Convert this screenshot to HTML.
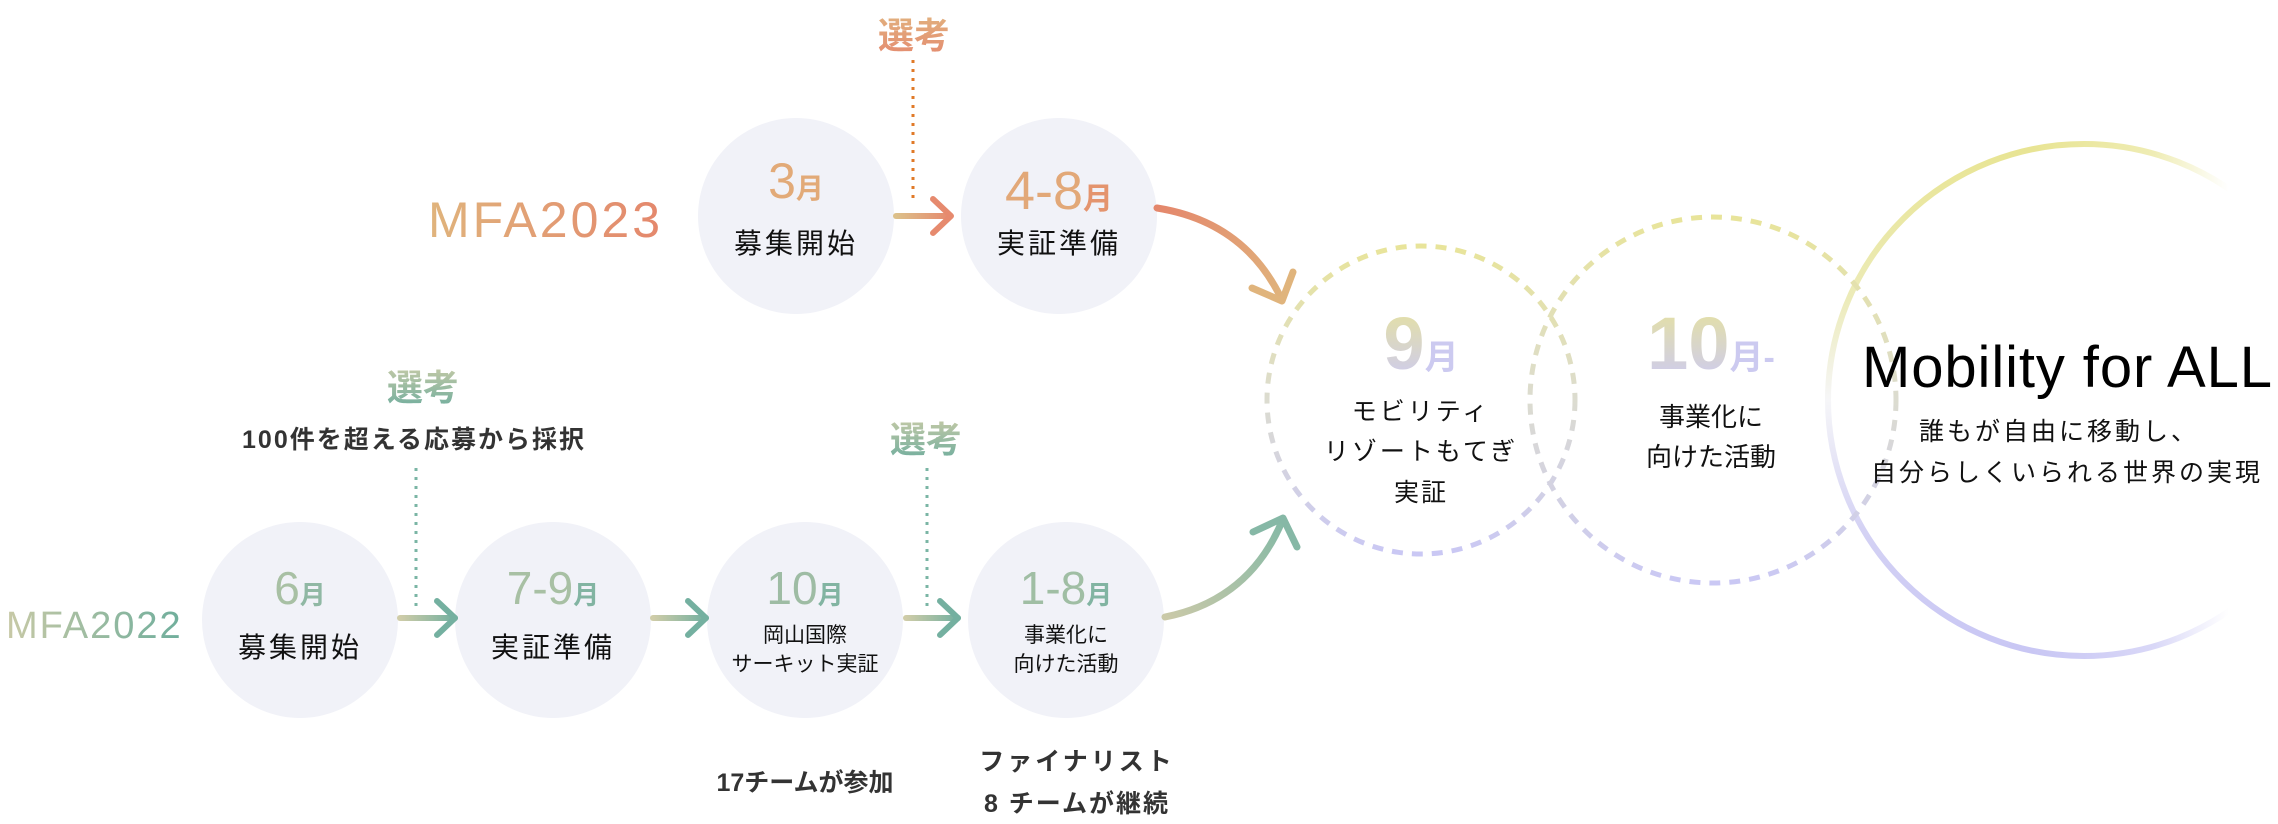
<!DOCTYPE html>
<html><head><meta charset="utf-8"><style>
html,body{margin:0;padding:0;background:#fff;}
svg{display:block;}
text{font-family:"Liberation Sans","Noto Sans CJK JP",sans-serif;}
</style></head><body>
<svg width="2278" height="824" viewBox="0 0 2278 824" xmlns="http://www.w3.org/2000/svg">
<defs>
<linearGradient id="or" x1="0" y1="0" x2="1" y2="0"><stop offset="0" stop-color="#e0b47c"/><stop offset="1" stop-color="#e4876c"/></linearGradient>
<linearGradient id="orh" gradientUnits="userSpaceOnUse" x1="896" y1="0" x2="950" y2="0"><stop offset="0" stop-color="#dcc08a"/><stop offset="1" stop-color="#e68a6e"/></linearGradient>
<linearGradient id="orc" gradientUnits="userSpaceOnUse" x1="1157" y1="208" x2="1283" y2="300"><stop offset="0" stop-color="#e4876c"/><stop offset="1" stop-color="#e0b47c"/></linearGradient>
<linearGradient id="gr" x1="0" y1="0" x2="1" y2="0"><stop offset="0" stop-color="#c8c9a6"/><stop offset="1" stop-color="#6fae9c"/></linearGradient>
<linearGradient id="g1" gradientUnits="userSpaceOnUse" x1="400" y1="0" x2="455" y2="0"><stop offset="0" stop-color="#cfcca8"/><stop offset="1" stop-color="#74b0a0"/></linearGradient>
<linearGradient id="g2" gradientUnits="userSpaceOnUse" x1="653" y1="0" x2="706" y2="0"><stop offset="0" stop-color="#cfcca8"/><stop offset="1" stop-color="#74b0a0"/></linearGradient>
<linearGradient id="g3" gradientUnits="userSpaceOnUse" x1="906" y1="0" x2="958" y2="0"><stop offset="0" stop-color="#cfcca8"/><stop offset="1" stop-color="#74b0a0"/></linearGradient>
<linearGradient id="grc" gradientUnits="userSpaceOnUse" x1="1165" y1="617" x2="1283" y2="518"><stop offset="0" stop-color="#cac9a8"/><stop offset="1" stop-color="#84b9a6"/></linearGradient>
<linearGradient id="grt" x1="0" y1="0" x2="0" y2="1"><stop offset="0" stop-color="#c2c9a6"/><stop offset="1" stop-color="#72ae9e"/></linearGradient>
<linearGradient id="ort" x1="0" y1="0" x2="0" y2="1"><stop offset="0" stop-color="#e2b07e"/><stop offset="1" stop-color="#e48c70"/></linearGradient>
<linearGradient id="yl" x1="0" y1="0" x2="0" y2="1"><stop offset="0" stop-color="#e8e49a"/><stop offset="0.5" stop-color="#dcdcd0"/><stop offset="1" stop-color="#cac8f4"/></linearGradient>
<linearGradient id="nm" x1="0" y1="0" x2="0" y2="1"><stop offset="0" stop-color="#e6e29c"/><stop offset="1" stop-color="#cccaf4"/></linearGradient>
<linearGradient id="big" gradientUnits="userSpaceOnUse" x1="0" y1="142" x2="0" y2="658"><stop offset="0" stop-color="#e8e492"/><stop offset="0.3" stop-color="#ecebb8"/><stop offset="0.5" stop-color="#f6f6f8"/><stop offset="0.75" stop-color="#d4d2f4"/><stop offset="1" stop-color="#c8c6f4"/></linearGradient>
<linearGradient id="fade" gradientUnits="userSpaceOnUse" x1="2030" y1="0" x2="2278" y2="0"><stop offset="0" stop-color="#fff" stop-opacity="0"/><stop offset="0.5" stop-color="#fff" stop-opacity="0.3"/><stop offset="0.8" stop-color="#fff" stop-opacity="1"/></linearGradient>
</defs>

<circle cx="2084" cy="400" r="256" fill="none" stroke="url(#big)" stroke-width="6"/>
<rect x="2030" y="120" width="248" height="560" fill="url(#fade)"/>

<circle cx="1421" cy="400" r="154" fill="none" stroke="url(#yl)" stroke-width="5" stroke-dasharray="11 9"/>
<circle cx="1713" cy="400" r="183" fill="none" stroke="url(#yl)" stroke-width="5" stroke-dasharray="11 9"/>

<g fill="#f1f2f8">
<circle cx="796" cy="216" r="98"/>
<circle cx="1059" cy="216" r="98"/>
<circle cx="300" cy="620" r="98"/>
<circle cx="553" cy="620" r="98"/>
<circle cx="805" cy="620" r="98"/>
<circle cx="1066" cy="620" r="98"/>
</g>

<text x="428" y="237" font-size="50" letter-spacing="3" fill="url(#or)">MFA2023</text>
<text x="6" y="638" font-size="38" letter-spacing="2" fill="url(#gr)">MFA2022</text>

<text x="914" y="48" font-size="36" font-weight="bold" text-anchor="middle" fill="url(#ort)">選考</text>
<line x1="913" y1="60" x2="913" y2="200" stroke="#e07a28" stroke-width="3" stroke-dasharray="3 6"/>
<path d="M896 216 H950" fill="none" stroke="url(#orh)" stroke-width="6" stroke-linecap="round"/>
<path d="M933 199 L951 216 L933 233" fill="none" stroke="#e68a6e" stroke-width="6" stroke-linecap="round" stroke-linejoin="round"/>

<text x="423" y="400" font-size="36" font-weight="bold" text-anchor="middle" fill="url(#grt)">選考</text>
<text x="414" y="448" font-size="25" font-weight="bold" text-anchor="middle" fill="#333" letter-spacing="2">100件を超える応募から採択</text>
<line x1="416" y1="468" x2="416" y2="606" stroke="#7ab5a4" stroke-width="3" stroke-dasharray="3 6"/>
<text x="926" y="452" font-size="36" font-weight="bold" text-anchor="middle" fill="url(#grt)">選考</text>
<line x1="927" y1="468" x2="927" y2="606" stroke="#7ab5a4" stroke-width="3" stroke-dasharray="3 6"/>

<g fill="none" stroke-width="6" stroke-linecap="round" stroke-linejoin="round">
<path d="M400 618 H455" stroke="url(#g1)"/>
<path d="M437 601 L455 618 L437 635" stroke="#74b0a0"/>
<path d="M653 618 H706" stroke="url(#g2)"/>
<path d="M688 601 L706 618 L688 635" stroke="#74b0a0"/>
<path d="M906 618 H958" stroke="url(#g3)"/>
<path d="M940 601 L958 618 L940 635" stroke="#74b0a0"/>
</g>

<g fill="none" stroke-width="7" stroke-linecap="round" stroke-linejoin="round">
<path d="M1157 208 Q1245 222 1282 300" stroke="url(#orc)"/>
<path d="M1252 288 L1282 301 L1293 272" stroke="#e0b47c"/>
<path d="M1165 617 Q1250 600 1283 519" stroke="url(#grc)"/>
<path d="M1253 532 L1283 518 L1297 547" stroke="#86b8a6"/>
</g>

<g text-anchor="middle">
<text x="796" y="198" fill="#e2aa78"><tspan font-size="50">3</tspan><tspan font-size="28" font-weight="bold">月</tspan></text>
<text x="796" y="253" font-size="28" letter-spacing="3" fill="#111">募集開始</text>
<text x="1059" y="209" fill="#e2a878"><tspan font-size="54">4-8</tspan><tspan font-size="30" font-weight="bold" fill="#e4946e">月</tspan></text>
<text x="1059" y="253" font-size="28" letter-spacing="3" fill="#111">実証準備</text>

<text x="300" y="604"><tspan font-size="46" fill="#a8c0a4">6</tspan><tspan font-size="26" font-weight="bold" fill="#90b8a4">月</tspan></text>
<text x="300" y="657" font-size="28" letter-spacing="3" fill="#111">募集開始</text>
<text x="553" y="604"><tspan font-size="46" fill="#a8c0a4">7-9</tspan><tspan font-size="26" font-weight="bold" fill="#82b4a2">月</tspan></text>
<text x="553" y="657" font-size="28" letter-spacing="3" fill="#111">実証準備</text>
<text x="805" y="604"><tspan font-size="46" fill="#9ebca4">10</tspan><tspan font-size="26" font-weight="bold" fill="#82b4a2">月</tspan></text>
<text x="805" y="642" font-size="21" fill="#111">岡山国際</text>
<text x="805" y="671" font-size="21" fill="#111">サーキット実証</text>
<text x="1066" y="604"><tspan font-size="46" fill="#a0bea4">1-8</tspan><tspan font-size="26" font-weight="bold" fill="#82b4a2">月</tspan></text>
<text x="1066" y="642" font-size="21" fill="#111">事業化に</text>
<text x="1066" y="671" font-size="21" fill="#111">向けた活動</text>

<text x="805" y="791" font-size="25" font-weight="bold" fill="#333">17チームが参加</text>
<text x="1077" y="770" font-size="25" font-weight="bold" fill="#333" letter-spacing="3">ファイナリスト</text>
<text x="1077" y="812" font-size="25" font-weight="bold" fill="#333" letter-spacing="2">8 チームが継続</text>

<text x="1421" y="369" fill="url(#nm)"><tspan font-size="74" font-weight="bold">9</tspan><tspan font-size="34" font-weight="bold" fill="#cccaf0">月</tspan></text>
<text x="1421" y="420" font-size="25" letter-spacing="3" fill="#111">モビリティ</text>
<text x="1421" y="460" font-size="25" letter-spacing="3" fill="#111">リゾートもてぎ</text>
<text x="1421" y="501" font-size="25" letter-spacing="2" fill="#111">実証</text>
<text x="1711" y="369" fill="url(#nm)"><tspan font-size="74" font-weight="bold">10</tspan><tspan font-size="34" font-weight="bold" fill="#cccaf0">月-</tspan></text>
<text x="1711" y="426" font-size="26" fill="#111">事業化に</text>
<text x="1711" y="466" font-size="26" fill="#111">向けた活動</text>

<text x="2067" y="387" font-size="58" fill="#000" textLength="410">Mobility for ALL</text>
<text x="2059" y="440" font-size="25" letter-spacing="3" fill="#111">誰もが自由に移動し、</text>
<text x="2067" y="481" font-size="25" letter-spacing="3" fill="#111">自分らしくいられる世界の実現</text>
</g>
</svg>
</body></html>
